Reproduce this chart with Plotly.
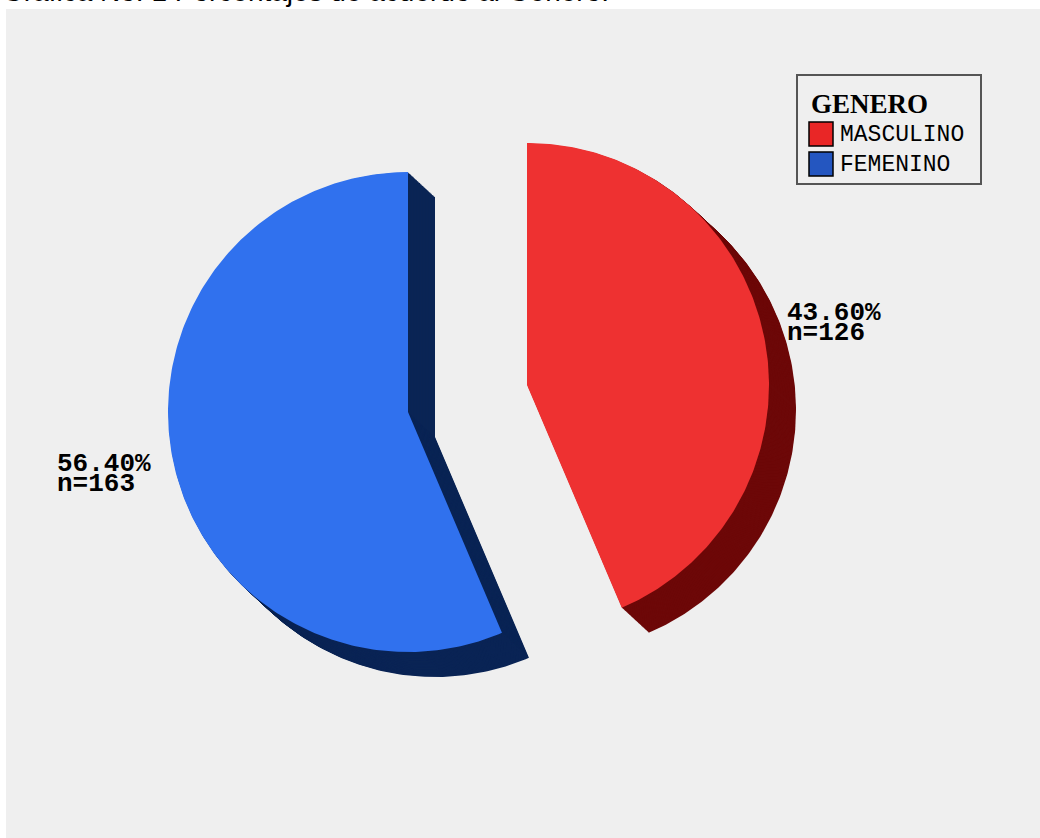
import numpy as np
import plotly.graph_objects as go

# ---- data -------------------------------------------------------------
categories = ["MASCULINO", "FEMENINO"]
counts = [126, 163]
legend_title = "GENERO"
title_text = "Grafica No. 1 Porcentajes de acuerdo al Genero."

# ---- styling ----------------------------------------------------------
face_colors = ["#ee3131", "#3071ee"]
shadow_colors = ["#6d0808", "#0a2455"]
legend_colors = ["#e92626", "#2456c0"]
panel_color = "#efefef"

W, H = 1040, 838
ML, MT = 6, 9                     # white strip left / top of the grey panel

# each slice is pulled away from the pie centre; geometry in pixel units
slice_radius = [242, 240]
slice_centre = [(527, 385), (408, 412)]
depth = (27, 25)                  # extrusion of the 3-D edge
depth_steps = 36

label_pos = [(785, 313), (55, 464)]   # left edge / first-line middle
label_gap = 20

total = sum(counts)
fractions = [c / total for c in counts]


def wedge(cx, cy, r, a0, a1, n=240):
    """Pie wedge polygon; angles are fractions of a turn, clockwise from 12 o'clock."""
    t = np.linspace(a0, a1, n) * 2 * np.pi
    xs = np.concatenate([[cx], cx + r * np.sin(t), [cx]])
    ys = np.concatenate([[cy], cy - r * np.cos(t), [cy]])
    return xs, ys


fig = go.Figure()

starts = np.concatenate([[0.0], np.cumsum(fractions)[:-1]])
ends = np.cumsum(fractions)

# extruded dark side of each slice
for i, cat in enumerate(categories):
    cx, cy = slice_centre[i]
    for k in range(depth_steps, 0, -1):
        dx = depth[0] * k / depth_steps
        dy = depth[1] * k / depth_steps
        xs, ys = wedge(cx + dx, cy + dy, slice_radius[i], starts[i], ends[i])
        fig.add_trace(go.Scatter(
            x=xs, y=ys, mode="lines", fill="toself",
            fillcolor=shadow_colors[i], line=dict(width=0, color=shadow_colors[i]),
            hoverinfo="skip", showlegend=False))

# top faces
for i, cat in enumerate(categories):
    cx, cy = slice_centre[i]
    xs, ys = wedge(cx, cy, slice_radius[i], starts[i], ends[i])
    fig.add_trace(go.Scatter(
        x=xs, y=ys, mode="lines", fill="toself",
        fillcolor=face_colors[i], line=dict(width=0, color=face_colors[i]),
        name=cat, hoverinfo="name", showlegend=False))

annotations = []
label_font = dict(family="Liberation Mono", size=26, color="black")
for i, c in enumerate(counts):
    lx, ly = label_pos[i]
    for j, line in enumerate([f"<b>{100 * fractions[i]:.2f}%</b>", f"<b>n={c}</b>"]):
        annotations.append(dict(
            x=lx, y=ly + j * label_gap, xref="x", yref="y", text=line,
            showarrow=False, xanchor="left", yanchor="middle",
            font=label_font))

# legend box
shapes = [dict(type="rect", xref="x", yref="y", x0=797, x1=981, y0=75, y1=184,
               line=dict(color="#555555", width=2), fillcolor="rgba(0,0,0,0)")]
annotations.append(dict(
    x=809, y=104, xref="x", yref="y", text=f"<b>{legend_title}</b>", showarrow=False,
    xanchor="left", yanchor="middle",
    font=dict(family="Liberation Serif", size=27, color="black")))
for i, cat in enumerate(categories):
    top = 122 + 30 * i
    shapes.append(dict(type="rect", xref="x", yref="y", x0=809, x1=833,
                       y0=top, y1=top + 24, fillcolor=legend_colors[i],
                       line=dict(color="black", width=1.5)))
    annotations.append(dict(
        x=838, y=top + 13, xref="x", yref="y", text=cat, showarrow=False,
        xanchor="left", yanchor="middle",
        font=dict(family="Liberation Mono", size=23, color="black")))

# heading above the panel
annotations.append(dict(
    x=-ML / (W - ML), y=1 + (MT + 8) / (H - MT), xref="paper", yref="paper",
    text=title_text, showarrow=False, xanchor="left", yanchor="middle",
    font=dict(family="Liberation Sans", size=28, color="black")))

fig.update_layout(
    width=W, height=H,
    margin=dict(l=ML, r=0, t=MT, b=0, pad=0),
    paper_bgcolor="white", plot_bgcolor=panel_color,
    showlegend=False,
    xaxis=dict(range=[ML, W], visible=False, fixedrange=True),
    yaxis=dict(range=[H, MT], visible=False, fixedrange=True),
    shapes=shapes, annotations=annotations,
)

fig.write_html("out.html")
